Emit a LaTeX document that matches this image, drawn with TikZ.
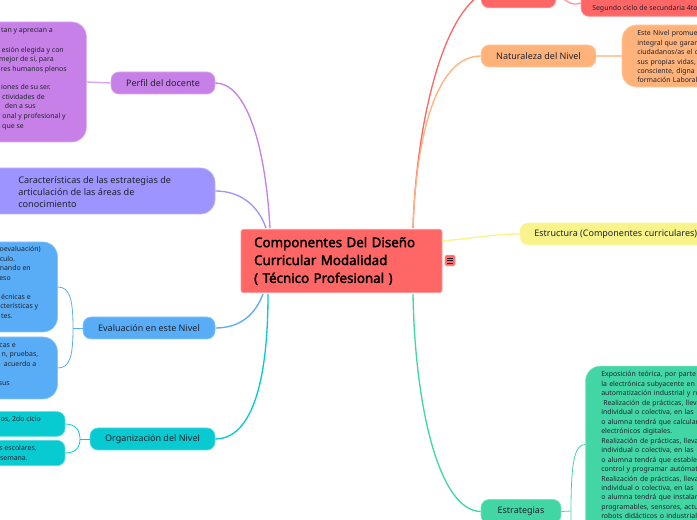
\documentclass[tikz,border=0pt]{standalone}
\usepackage{fontspec}
\setmainfont{Noto Sans}
\newfontfamily\titular{Noto Sans}[FakeBold=2]
\usetikzlibrary{calc}
\definecolor{rojo}{HTML}{FF6767}
\definecolor{naranja}{HTML}{FFB27A}
\definecolor{amarillo}{HTML}{F8F38B}
\definecolor{verde}{HTML}{42D6A4}
\definecolor{turquesa}{HTML}{08CAD1}
\definecolor{azul}{HTML}{59ADF6}
\definecolor{lila}{HTML}{9D94FF}
\definecolor{morado}{HTML}{C780E8}
\definecolor{tinta}{HTML}{1F2430}
\tikzset{
  rama/.style={fill=#1,draw=#1!70!white,line width=0.5pt,rounded corners=6pt,text=tinta,inner sep=0pt,
    font=\fontsize{6.75pt}{9pt}\selectfont},
  caja/.style={fill=#1,draw=#1!70!white,line width=0.5pt,rounded corners=11pt,inner sep=0pt},
  linea/.style={text=tinta,inner sep=0pt,font=\fontsize{5.2pt}{7.12pt}\selectfont},
  bloque/.style={linea,align=left,anchor=north west,text width=200pt},
  enlace/.style={draw=#1,line width=1pt},
}
\begin{document}
\begin{tikzpicture}[x=0.75pt,y=-0.75pt]
\path[use as bounding box,clip] (0,0) rectangle (697,520);
% central
\node[fill=rojo,draw=rojo!70!white,line width=0.5pt,rounded corners=2pt,minimum width=150.75pt,minimum height=47.5pt,
  text width=131pt,align=left,text=black,inner sep=0pt,
  font=\titular\fontsize{10pt}{13.4pt}\selectfont] (central) at (341.5,261)
  {Componentes Del Diseño\\Curricular Modalidad\\( Técnico Profesional )};
\node[fill=rojo,draw=rojo!70!white,line width=0.4pt,rounded corners=1pt,minimum width=7.5pt,minimum height=8pt,inner sep=0pt] (menu) at (450,260.5) {};
\foreach \yy in {-2.5,0,2.5}
  \draw[tinta,line width=0.6pt] ($(menu.center)+(-3,\yy)$) -- ($(menu.center)+(3,\yy)$);
\coordinate (nwa) at (270,228);
\coordinate (nwb) at (266,228);
\coordinate (nec) at (413,228);
\coordinate (swa) at (263,294);
\coordinate (swb) at (268,294);
\coordinate (sec) at (413,294);
\coordinate (eec) at (442,241);
% ramas
\node[rama=morado,minimum width=78pt,minimum height=16.5pt] (perfil) at (163,83) {Perfil del docente};
\node[rama=lila,rounded corners=11pt,minimum width=240pt,minimum height=34.5pt] (carac) at (55,191) {};
\node[rama=azul,minimum width=99pt,minimum height=16.5pt] (evalua) at (149,328) {Evaluación en este Nivel};
\node[rama=turquesa,minimum width=93.75pt,minimum height=16.5pt] (organ) at (152.5,439) {Organización del Nivel};
\node[rama=rojo,minimum width=56pt,minimum height=20pt] (modal) at (518.5,-5.5) {Modalidad};
\node[rama=naranja,minimum width=86pt,minimum height=16.5pt] (natur) at (538.5,56) {Naturaleza del Nivel};
\node[rama=amarillo,minimum width=210pt,minimum height=16.5pt] (estruc) at (660,234) {};
\node[text=tinta,inner sep=0pt,anchor=base west,font=\fontsize{6.75pt}{9pt}\selectfont] (estruct) at (534,236.5) {Estructura (Componentes curriculares)};
\node[rama=verde,minimum width=60pt,minimum height=18pt] (estrat) at (521,511.5) {Estrategias};
\node[text=tinta,inner sep=0pt,anchor=north west,align=left,font=\fontsize{6.85pt}{9pt}\selectfont] (caract) at (18,176.5)
  {Características de las estrategias de\\articulación de las áreas de\\conocimiento};
% cajas
\node[caja=morado,minimum width=140pt,minimum height=90pt] (perfilc) at (-7,82) {};
\node[caja=azul,minimum width=120pt,minimum height=67.5pt] (evaluaa) at (-22.5,287) {};
\node[caja=azul,minimum width=120pt,minimum height=46.5pt] (evaluab) at (-22.5,368) {};
\node[caja=turquesa,rounded corners=6pt,minimum width=120pt,minimum height=18.5pt] (organa) at (-15,424) {};
\node[caja=turquesa,rounded corners=6pt,minimum width=120pt,minimum height=19pt] (organb) at (-15,453) {};
\node[caja=rojo,rounded corners=6pt,minimum width=150pt,minimum height=20pt] (modala) at (681,3) {};
\node[caja=naranja,minimum width=150pt,minimum height=46.5pt] (naturc) at (722,56) {};
\node[caja=verde,minimum width=200pt,minimum height=200pt] (estratc) at (719,499.5) {};
% textos
\foreach \yy/\xx/\txt [count=\n] in {33/53/{tan y aprecian a},52.5/64/{esión elegida y con},62/54/{mejor de sí, para},71.5/67/{res humanos plenos},
  90/51/{iones de su ser.},99.5/45/{ctividades de},109/36/{den a sus},119/66/{onal y profesional y},128.5/24/{que se}}
  \node[linea,anchor=base east] (perfilt\n) at (\xx,\yy) {\txt};
\foreach \yy/\xx/\txt [count=\n] in {252/41/{oevaluación)},261.5/15.5/{culo.},271/31/{mando en},280.5/11/{eso},299.5/31/{écnicas e},309/38.5/{cterísticas y},318.5/13/{tes.},
  347.5/16/{cas e},357/38.5/{n, pruebas,},367/36.5/{acuerdo a},386/10/{sus},421.5/41/{os, 2do ciclo},451/37/{s escolares,},461/28/{semana.}}
  \node[linea,anchor=base east] (evalt\n) at (\xx,\yy) {\txt};
\node[linea,anchor=base west] (modalt) at (592,10.5) {Segundo ciclo de secundaria 4to};
\node[bloque] (naturt) at (637,30) {Este Nivel promueve\\integral que garantiza\\ciudadanos/as el desarrollo\\sus propias vidas, de\\consciente, digna\\formación Laboral};
\node[bloque] (estratt) at (601,371) {Exposición teórica, por parte\\la electrónica subyacente en\\automatización industrial y robótica\\\hspace*{1.5pt}Realización de prácticas, llevadas\\individual o colectiva, en las\\o alumna tendrá que calcular\\electrónicos digitales.\\Realización de prácticas, llevadas\\individual o colectiva, en las\\o alumna tendrá que establecer\\control y programar autómatas\\Realización de prácticas, llevadas\\individual o colectiva, en las\\o alumna tendrá que instalar\\programables, sensores, actuadores\\robots didácticos o industriales};
% enlaces
\draw[enlace=morado] (perfil.east) .. controls (245,83) and (265,140) .. (nwa);
\draw[enlace=lila] (carac.east) .. controls (240,191) and (258,205) .. (nwb);
\draw[enlace=azul] (evalua.east) .. controls (240,328) and (255,315) .. (swa);
\draw[enlace=turquesa] (organ.east) .. controls (245,439) and (268,400) .. (swb);
\draw[enlace=rojo] (nec) .. controls (416,130) and (440,20) .. (modal.west);
\draw[enlace=naranja] (nec) .. controls (416,140) and (435,56) .. (natur.west);
\draw[enlace=amarillo] (eec) .. controls (475,238) and (495,234) .. (estruc.west);
\draw[enlace=verde] (sec) .. controls (415,410) and (440,511) .. (estrat.west);
\draw[enlace=morado!70!white] (perfil.west) -- (perfilc.east);
\draw[enlace=naranja!70!white] (natur.east) -- (naturc.west);
\draw[enlace=rojo!70!white] (modal.east) .. controls (566,-1) and (570,7) .. (modala.west);
\draw[enlace=azul,line width=0.6pt] (evalua.west) -- (73,328);
\draw[enlace=azul,line width=0.6pt] (evaluaa.east) .. controls (70,287) and (73,300) .. (73,328) .. controls (73,356) and (70,368) .. (evaluab.east);
\draw[enlace=turquesa,line width=0.6pt] (organ.west) -- (80,439);
\draw[enlace=turquesa,line width=0.6pt] (organa.east) .. controls (75,424) and (80,430) .. (80,439) .. controls (80,448) and (75,453) .. (organb.east);
\draw[enlace=verde,line width=0.6pt] (estrat.east) -- (571,511);
\draw[enlace=verde,line width=0.6pt] ($(estratc.west)+(0,-55)$) .. controls (575,444.5) and (571,460) .. (571,511) -- (571,520);
\end{tikzpicture}
\end{document}
